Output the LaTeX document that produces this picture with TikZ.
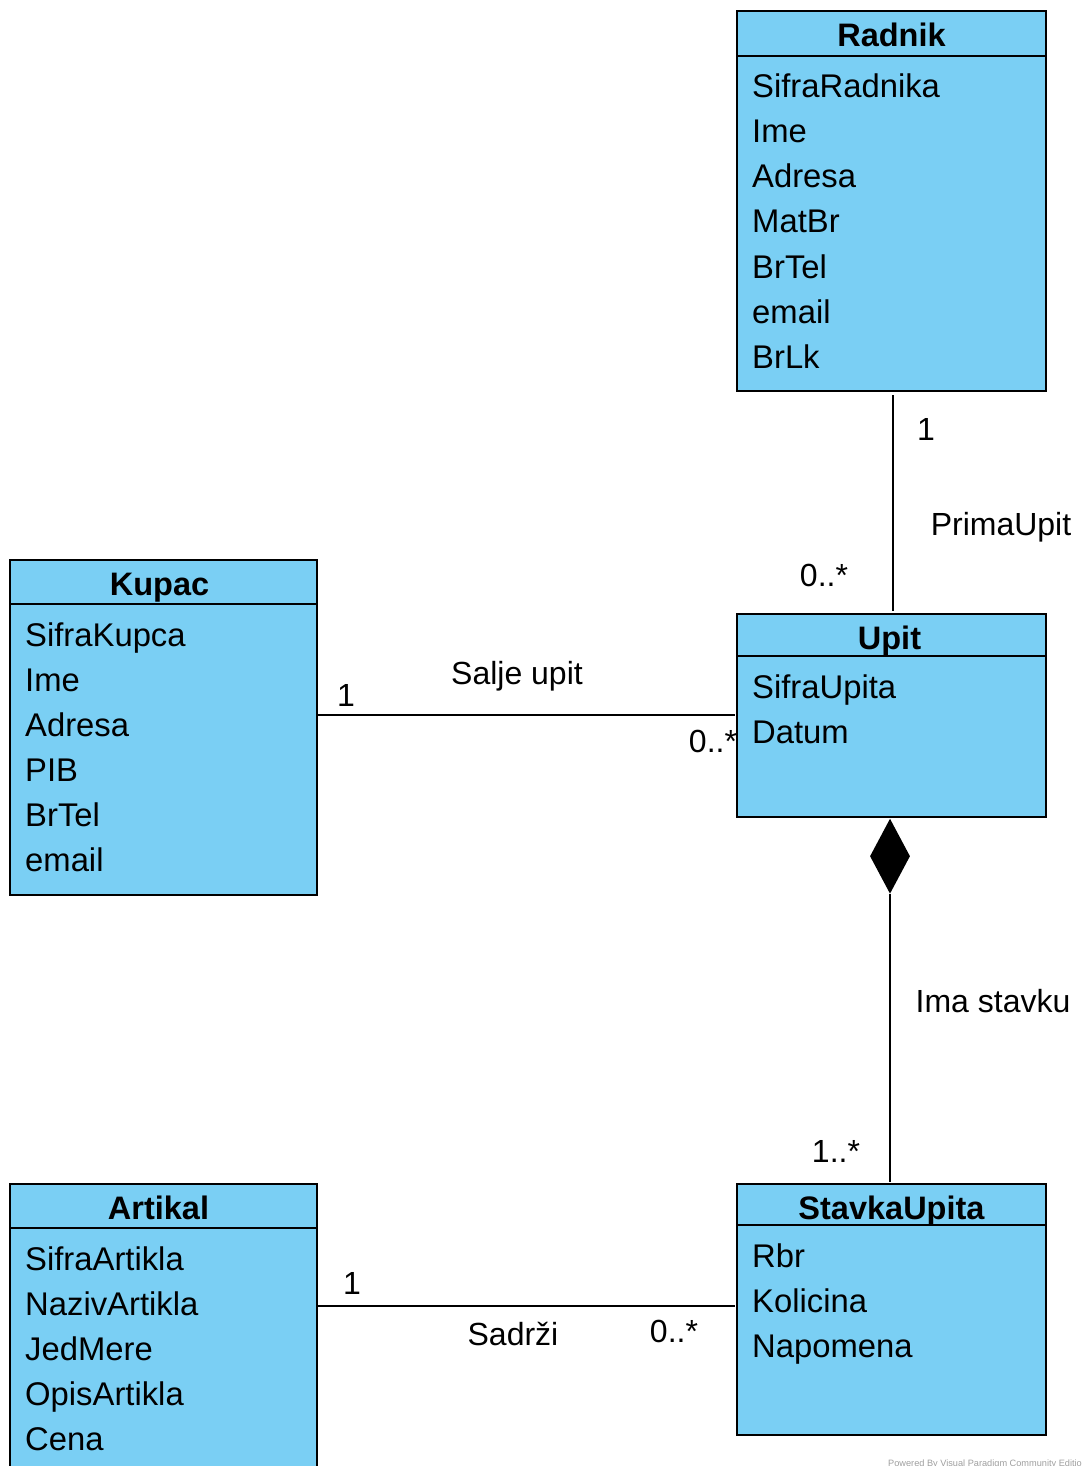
\documentclass[tikz,border=0pt]{standalone}
\usepackage{fontspec}
\setmainfont{Liberation Sans}
\usetikzlibrary{shapes.geometric,calc}
\definecolor{cls}{RGB}{122,207,244}
\tikzset{
 classbox/.style={draw, fill=cls, line width=2.6pt, inner sep=0pt, outer sep=0pt, anchor=north west},
 ttl/.style={font=\fontsize{32.5}{38}\selectfont\bfseries, anchor=base, inner sep=0pt},
 attr/.style={font=\fontsize{32.8}{38}\selectfont, anchor=base west, inner sep=0pt},
 lbl/.style={font=\fontsize{32}{38}\selectfont, anchor=base, inner sep=0pt},
 assoc/.style={line width=2.6pt},
}
% name, x, y, w, h, header height, title x-shift, title, attributes
\newcommand\mkclass[9]{%
 \node[classbox, minimum width=#4pt, minimum height=#5pt] (#1) at (#2,-#3) {};
 \draw[line width=2.6pt] ([yshift=-#6pt]#1.north west) -- ([yshift=-#6pt]#1.north east);
 \node[ttl] (#1-t) at ($(#1.north)+(#7,-35.5)$) {#8};
 \foreach \a [count=\i] in {#9} {\node[attr] (#1-\i) at ($(#1.north west)+(15,-#6-42-45*\i+45)$) {\a};}
}
\begin{document}
\begin{tikzpicture}[x=1pt,y=1pt]
\useasboundingbox (0,0) rectangle (1081,-1466);
\clip (0,0) rectangle (1081,-1466);
\fill[white] (0,0) rectangle (1081,-1466);

\mkclass{radnik}{737}{11}{309}{380}{45}{0}{Radnik}{SifraRadnika,Ime,Adresa,MatBr,BrTel,email,BrLk}
\mkclass{kupac}{10}{560}{307}{335}{44}{-4}{Kupac}{SifraKupca,Ime,Adresa,PIB,BrTel,email}
\mkclass{upit}{737}{614}{309}{203}{42}{-2}{Upit}{SifraUpita,Datum}
\mkclass{artikal}{10}{1184}{307}{300}{44}{-5}{Artikal}{SifraArtikla,NazivArtikla,JedMere,OpisArtikla,Cena}
\mkclass{stavka}{737}{1184}{309}{251}{41}{0}{StavkaUpita}{Rbr,Kolicina,Napomena}

% Radnik -- Upit
\draw[assoc] ($(radnik.south)+(1.5,-4)$) -- ($(upit.north)+(1.5,3)$);
\node[lbl] (l1) at (926,-440) {1};
\node[lbl] (l2) at (1001,-535) {PrimaUpit};
\node[lbl] (l3) at (824,-586) {0..*};

% Kupac -- Upit
\draw[assoc] (kupac.east |- 0,-715) -- ($(upit.west |- 0,-715)+(-2,0)$);
\node[lbl] (l4) at (346,-706) {1};
\node[lbl] (l5) at (517,-684) {Salje upit};
\node[lbl] (l6) at (713,-752) {0..*};

% Upit -- StavkaUpita (composition)
\node[diamond, fill=black, draw=none, inner sep=0pt, minimum width=40pt, minimum height=75pt, anchor=north] (dia) at ($(upit.south)+(-1.5,-1.5)$) {};
\draw[assoc] (dia.south) -- ($(stavka.north)+(-1.5,2)$);
\node[lbl] (l7) at (993,-1012) {Ima stavku};
\node[lbl] (l8) at (836,-1162) {1..*};

% Artikal -- StavkaUpita
\draw[assoc] (artikal.east |- 0,-1306) -- ($(stavka.west |- 0,-1306)+(-2,0)$);
\node[lbl] (l9) at (352,-1294) {1};
\node[lbl] (l10) at (513,-1345) {Sadrži};
\node[lbl] (l11) at (674,-1342) {0..*};

\node[font=\fontsize{9.2}{11}\selectfont, text=gray!75, anchor=base west, inner sep=0pt] (wm) at (888,-1466.5) {Powered By Visual Paradigm Community Edition};
\end{tikzpicture}
\end{document}
